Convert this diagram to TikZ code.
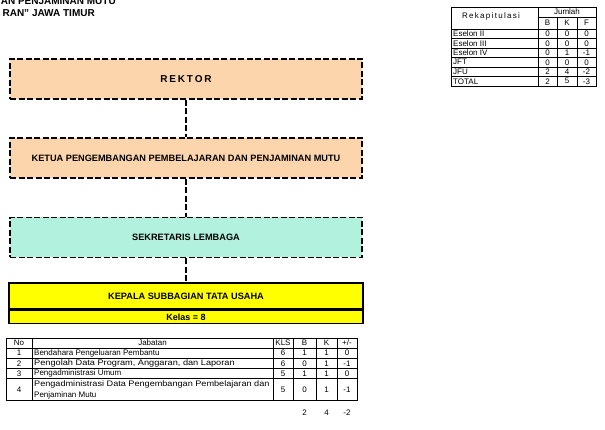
\documentclass[tikz,border=0pt]{standalone}
\usepackage{fontspec}
\setmainfont{Liberation Sans}
\definecolor{peach}{RGB}{252,213,172}
\definecolor{mint}{RGB}{178,241,222}
\definecolor{yel}{RGB}{255,255,0}
\newcommand{\lsp}{\hspace{1.3pt}}
\begin{document}
\begin{tikzpicture}[x=1pt,y=-1pt,
  orgbox/.style={draw=black,line width=1.3pt,dash pattern=on 6pt off 2.5pt,minimum width=352pt,minimum height=40pt,inner sep=0pt,font=\fontsize{9.2}{10}\selectfont\bfseries},
  conn/.style={draw=black,line width=1.3pt,dash pattern=on 6pt off 2.5pt},
  solidbox/.style={draw=black,line width=1.3pt,fill=yel,minimum width=354pt,inner sep=0pt},
  grid/.style={draw=black,line width=0.6pt},
  tx/.style={font=\fontsize{8}{9}\selectfont,inner sep=0pt},
  lt/.style={tx,anchor=west},
  ttl/.style={font=\fontsize{10}{11}\selectfont\bfseries,inner sep=0pt,anchor=east}
]
\useasboundingbox (0,0) rectangle (605,430);
\clip (0,0) rectangle (605,430);
% title
\node[ttl] (t1) at (116,1.5) {AN PENJAMINAN MUTU};
\node[ttl] (t2) at (95,13.5) {RAN" JAWA TIMUR};
% org boxes
\node[orgbox,fill=peach] (rektor) at (186,79) {\fontsize{10}{11}\selectfont R\hspace{1.8pt}E\hspace{1.8pt}K\hspace{1.8pt}T\hspace{1.8pt}O\hspace{1.8pt}R};
\node[orgbox,fill=peach] (ketua) at (186,158) {KETUA PENGEMBANGAN PEMBELAJARAN DAN PENJAMINAN MUTU};
\node[orgbox,fill=mint] (sekr) at (186,237.5) {SEKRETARIS LEMBAGA};
\node[solidbox,minimum height=26pt,font=\fontsize{9.2}{10}\selectfont\bfseries] (kasub) at (186,296) {KEPALA SUBBAGIAN TATA USAHA};
\node[solidbox,minimum height=13pt,anchor=north,font=\fontsize{9}{10}\selectfont\bfseries] (kelas) at (kasub.south) {Kelas = 8};
\draw[conn] (rektor.south) -- (ketua.north);
\draw[conn] (ketua.south) -- (sekr.north);
\draw[conn] (sekr.south) -- (kasub.north);
% main table grid
\draw[grid] (6,338) rectangle (357,400);
\foreach \y in {348,358.5,368.5,378.5} \draw[grid] (6,\y) -- (357,\y);
\foreach \x in {32,273,293,316,337} \draw[grid] (\x,338) -- (\x,400);
% header
\node[tx] (hno) at (19,343) {No};
\node[tx] (hjab) at (152.5,343) {Jabatan};
\node[tx] (hkls) at (283,343) {KLS};
\node[tx] (hb) at (304.5,343) {B};
\node[tx] (hk) at (326.5,343) {K};
\node[tx] (hpm) at (347,343) {+/-};
% rows
\node[tx] (n1) at (19,353.2) {1};
\node[lt] (j1) at (34,353.2) {Bendahara Pengeluaran Pembantu};
\node[tx] (k1) at (283,353.2) {6};
\node[tx] (b1) at (304.5,353.2) {1};
\node[tx] (kk1) at (326.5,353.2) {1};
\node[tx] (p1) at (347,353.2) {0};
\node[tx] (n2) at (19,363.5) {2};
\node[lt] (j2) at (34,363.5) {\scalebox{1.15}[1]{Pengolah Data Program, Anggaran, dan Laporan}};
\node[tx] (k2) at (283,363.5) {6};
\node[tx] (b2) at (304.5,363.5) {0};
\node[tx] (kk2) at (326.5,363.5) {1};
\node[tx] (p2) at (347,363.5) {-1};
\node[tx] (n3) at (19,373.5) {3};
\node[lt] (j3) at (34,373.5) {Pengadministrasi Umum};
\node[tx] (k3) at (283,373.5) {5};
\node[tx] (b3) at (304.5,373.5) {1};
\node[tx] (kk3) at (326.5,373.5) {1};
\node[tx] (p3) at (347,373.5) {0};
\node[tx] (n4) at (19,389.5) {4};
\node[lt] (j4a) at (34,384) {\scalebox{1.14}[1]{Pengadministrasi Data Pengembangan Pembelajaran dan}};
\node[lt] (j4b) at (34,395) {Penjaminan Mutu};
\node[tx] (k4) at (283,389.5) {5};
\node[tx] (b4) at (304.5,389.5) {0};
\node[tx] (kk4) at (326.5,389.5) {1};
\node[tx] (p4) at (347,389.5) {-1};
\node[tx] (sb) at (304.5,413) {2};
\node[tx] (sk) at (326.5,413) {4};
\node[tx] (sp) at (347,413) {-2};
% recap table
\draw[grid] (451,7) rectangle (596,86);
\draw[grid] (538,17) -- (596,17);
\foreach \y in {29,38.5,48,57.5,67,76.5} \draw[grid] (451,\y) -- (596,\y);
\draw[grid] (538,7) -- (538,86);
\foreach \x in {557,577} \draw[grid] (\x,17) -- (\x,86);
\node[tx] (rk) at (491,16) {R\lsp e\lsp k\lsp a\lsp p\lsp i\lsp t\lsp u\lsp l\lsp a\lsp s\lsp i};
\node[tx] (rj) at (567,12) {Jumlah};
\node[tx] (rb) at (547.5,23) {B};
\node[tx] (rkk) at (567,23) {K};
\node[tx] (rf) at (586.5,23) {F};
\foreach \lab/\b/\k/\f [count=\i] in {Eselon II/0/0/0,Eselon III/0/0/0,Eselon IV/0/1/-1,JFT/0/0/0,JFU/2/4/-2,TOTAL/2/5/-3}{
  \pgfmathsetmacro{\yy}{29+9.5*\i-4.75}
  \node[lt] (rl\i) at (453,\yy) {\lab};
  \node[tx] (rb\i) at (547.5,\yy) {\b};
  \node[tx] (rk\i) at (567,\yy) {\k};
  \node[tx] (rf\i) at (586.5,\yy) {\f};
}
\end{tikzpicture}
\end{document}
